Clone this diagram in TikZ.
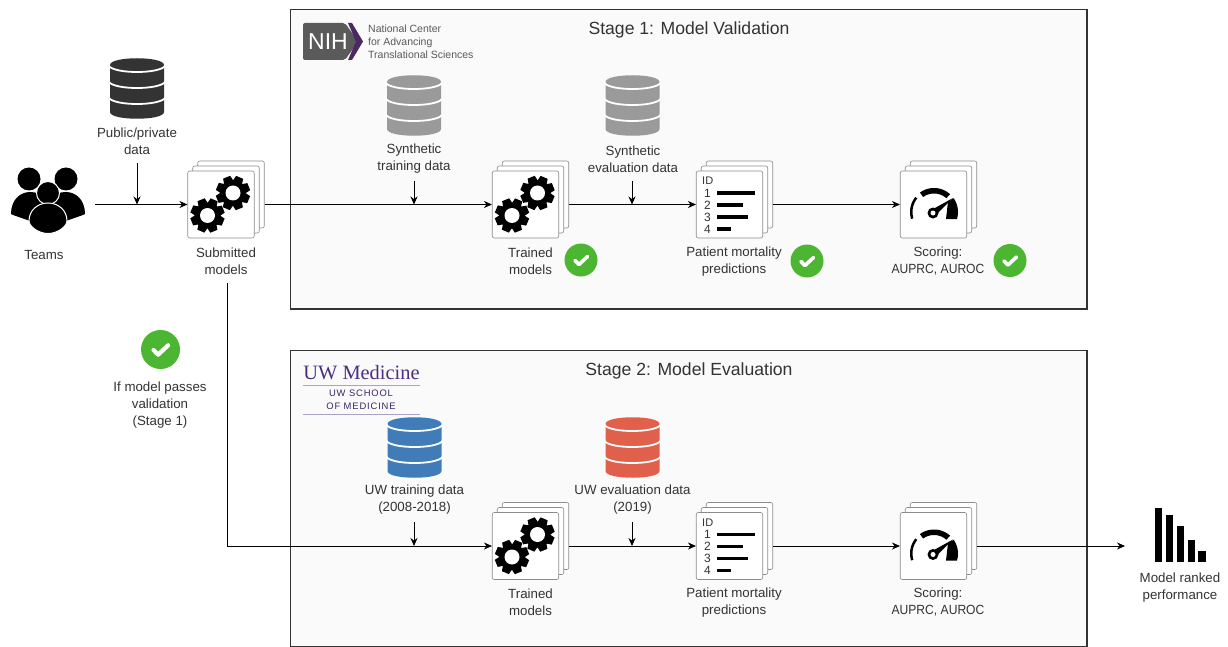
\documentclass[tikz,border=0pt]{standalone}
\usepackage{fontspec}
\setmainfont{Liberation Sans}
\newfontfamily\serifface{Liberation Serif}
\newfontfamily\uwsmall[LetterSpace=9]{Liberation Sans}
\newfontfamily\capsface[FakeStretch=0.91]{Liberation Sans}
\usetikzlibrary{arrows.meta,calc}
\definecolor{txt}{HTML}{333333}
\definecolor{panelbg}{HTML}{FAFAFA}
\definecolor{okgreen}{HTML}{4CB531}
\definecolor{dbblack}{HTML}{333333}
\definecolor{dbgray}{HTML}{9A9A9A}
\definecolor{dbblue}{HTML}{3F7CB8}
\definecolor{dbred}{HTML}{E0604C}
\definecolor{uwpurple}{HTML}{4B2E83}
\definecolor{nihgray}{HTML}{5A5A5A}
\definecolor{nihpurple}{HTML}{4A2A60}
\newcommand{\capsline}[1]{{\capsface\fontsize{13.3}{17}\selectfont #1}}
\tikzset{
  lbl/.style={font=\fontsize{13.3}{17}\selectfont,align=center,text=txt,inner sep=0pt},
  ttl/.style={font=\fontsize{17.6}{20}\selectfont,text=txt,inner sep=0pt},
  panel/.style={draw=black!80,line width=1.3pt,fill=panelbg},
  cardbox/.style={draw=black!45,line width=0.6pt,fill=white,rounded corners=2pt,minimum width=66.5pt,minimum height=67pt,inner sep=0pt},
  conn/.style={draw=black,line width=0.8pt,-{Stealth[length=8pt,width=7pt]}},
  pics/cards/.style={code={
    \node[cardbox] (-b) at (10,-10) {};
    \node[cardbox] (-m) at (5,-5) {};
    \node[cardbox] (-f) at (0,0) {};
  }},
  pics/dbicon/.style={code={
    \fill[#1] (-27,7) .. controls (-27,-2) and (27,-2) .. (27,7) -- (27,54) .. controls (27,63) and (-27,63) .. (-27,54) -- cycle;
    \foreach \yy in {8,24,40}
      \draw[white,line width=1.8pt] (-28,\yy) .. controls (-22,\yy+8) and (22,\yy+8) .. (28,\yy);
  }},
  pics/gearicon/.style={code={
    \fill[black] (0,0) circle[radius=13];
    \foreach \a in {0,45,...,315}
      \fill[black,rotate=\a+22] (-3.8,-17) -- (3.8,-17) -- (5.2,-10) -- (-5.2,-10) -- cycle;
    \fill[white] (0,0) circle[radius=7.5];
  }},
  pics/gears/.style={code={
    \pic at (-13.5,11) {gearicon};
    \pic at (12,-11.5) {gearicon};
  }},
  pics/okmark/.style={code={
    \fill[okgreen] (0,0) circle[radius=16.5];
    \draw[white,line width=3.6pt,line cap=round,line join=round] (-6,0.5) -- (-2,4.5) -- (6.5,-3.5);
  }},
  pics/okbig/.style={code={
    \fill[okgreen] (0,0) circle[radius=19.5];
    \draw[white,line width=4.2pt,line cap=round,line join=round] (-7,0.5) -- (-2.4,5.2) -- (7.6,-4.2);
  }},
  pics/listicon/.style={code={
    \node[font=\fontsize{11}{12}\selectfont,text=txt,anchor=west,inner sep=0pt] (-id) at (-27.5,-23.5) {ID};
    \node[font=\fontsize{12}{12}\selectfont,text=txt,inner sep=0pt] (-n1) at (-22,-11.5) {1};
    \node[font=\fontsize{12}{12}\selectfont,text=txt,inner sep=0pt] (-n2) at (-22,0.5) {2};
    \node[font=\fontsize{12}{12}\selectfont,text=txt,inner sep=0pt] (-n3) at (-22,12.5) {3};
    \node[font=\fontsize{12}{12}\selectfont,text=txt,inner sep=0pt] (-n4) at (-22,24.5) {4};
    \fill[black] (-12.5,-13.5) rectangle (25.5,-9.8);
    \fill[black] (-12.5,-1.5) rectangle (13.5,2.2);
    \fill[black] (-12.5,10.5) rectangle (18.5,14.2);
    \fill[black] (-12.5,22.5) rectangle (1.5,26.2);
  }},
  pics/gaugeicon/.style={code={
    % origin = card centre; dial centre lies at (0.5,7.5)
    \fill[black] plot[domain=197:141,samples=14] ({0.5+24*cos(\x)},{7.5-24*sin(\x)})
       -- plot[domain=141:197,samples=14] ({0.5+21.5*cos(\x)},{7.5-21.5*sin(\x)}) -- cycle;
    \fill[black] plot[domain=126:48,samples=18] ({0.5+24*cos(\x)},{7.5-24*sin(\x)})
       -- plot[domain=48:126,samples=18] ({0.5+18.5*cos(\x)},{7.5-18.5*sin(\x)}) -- cycle;
    \fill[black] plot[domain=35:-17,samples=14] ({0.5+24*cos(\x)},{7.5-24*sin(\x)})
       -- (12.5,14.5) -- ({0.5+17*cos(35)},{7.5-17*sin(35)}) -- cycle;
    \fill[black] (19.5,-6.5) -- (1.6,11.3) -- (-2.6,5.7) -- cycle;
    \fill[black] (-0.5,8.5) circle[radius=5.5];
    \fill[white] (-0.5,8.5) circle[radius=2.5];
  }},
}
\begin{document}
\begin{tikzpicture}[x=1pt,y=-1pt]
\useasboundingbox (0,0) rectangle (1228,647);
\fill[white] (0,0) rectangle (1228,647);

% panels
\draw[panel] (290.5,9.5) rectangle (1087,309);
\draw[panel] (290.5,350.5) rectangle (1087,646.3);
\node[ttl] (title1) at (689,30) {Stage 1: Model Validation};
\node[ttl] (title2) at (689,371) {Stage 2: Model Evaluation};

% NIH logo
\fill[nihgray,rounded corners=2pt] (303,23) -- (345,23) -- (358,41.5) -- (345,60) -- (303,60) -- cycle;
\fill[nihpurple] (348,23) -- (352,23) -- (363,41.5) -- (352,60) -- (348,60) -- (356,41.5) -- cycle;
\node[font=\fontsize{23}{24}\selectfont,text=white,inner sep=0pt] (nih) at (328,42) {NIH};
\node[font=\fontsize{10.5}{13}\selectfont,text=black!65,align=left,anchor=west,inner sep=0pt] (ncats) at (368,42) {National Center\\for Advancing\\Translational Sciences};

% UW logo
\node[font=\serifface\fontsize{20.4}{22}\selectfont,text=uwpurple,inner sep=0pt] (uw) at (361.5,373) {UW Medicine};
\draw[uwpurple!45,line width=0.9pt] (303,385) -- (420,385);
\node[font=\uwsmall\fontsize{9.4}{13}\selectfont,text=uwpurple!80!black,align=center,inner sep=0pt] (uwsom) at (361,399.5) {UW SCHOOL\\OF MEDICINE};
\draw[uwpurple!45,line width=0.7pt] (303,414) -- (420,414);

% databases
\pic at (137,58) {dbicon=dbblack};
\pic at (414,75) {dbicon=dbgray};
\pic at (632.5,75) {dbicon=dbgray};
\pic at (414.5,417) {dbicon=dbblue};
\pic at (632.5,417) {dbicon=dbred};

% teams
\fill[black] (29,179) circle[radius=11.5];
\fill[black] (66,179) circle[radius=11.5];
\fill[black] (11,214) .. controls (11,200) and (20,192) .. (30,192) .. controls (42,192) and (50,200) .. (50,214) -- (30,221) .. controls (22,218) and (15,216) .. (11,214) -- cycle;
\fill[black] (85,214) .. controls (85,200) and (76,192) .. (66,192) .. controls (54,192) and (46,200) .. (46,214) -- (66,221) .. controls (74,218) and (81,216) .. (85,214) -- cycle;
\fill[black,draw=white,line width=1pt] (48,193) circle[radius=11.5];
\fill[black,draw=white,line width=1pt] (29,221) .. controls (29,210) and (38,203) .. (48,203) .. controls (58,203) and (67,210) .. (67,221) .. controls (67,226) and (58,233.5) .. (48,233.5) .. controls (38,233.5) and (29,226) .. (29,221) -- cycle;

% cards
\pic (sub) at (221,204.5) {cards};
\pic (tr1) at (525.5,204.5) {cards};
\pic (ls1) at (729.5,204.5) {cards};
\pic (sc1) at (933.5,204.5) {cards};
\pic (tr2) at (525.5,546) {cards};
\pic (ls2) at (729.5,546) {cards};
\pic (sc2) at (933.5,546) {cards};
\pic at (221,204.5) {gears};
\pic at (525.5,204.5) {gears};
\pic at (525.5,546) {gears};
\pic (l1) at (729.5,204.5) {listicon};
\pic (l2) at (729.5,546) {listicon};
\pic at (933.5,204.5) {gaugeicon};
\pic at (933.5,546) {gaugeicon};

% checks
\pic at (581,260) {okmark};
\pic at (807,261) {okmark};
\pic at (1010,260.5) {okmark};
\pic at (160.5,349.5) {okbig};

% ranked bars
\fill[black] (1155,508) rectangle (1162,562);
\fill[black] (1166,515) rectangle (1173,562);
\fill[black] (1177,526) rectangle (1184,562);
\fill[black] (1187.5,540) rectangle (1194.5,562);
\fill[black] (1198,551) rectangle (1205.5,562);

% labels
\node[lbl] (lpub) at (137,141) {Public/private\\data};
\node[lbl] (lteam) at (44,255) {Teams};
\node[lbl] (lsub) at (226,261.5) {Submitted\\models};
\node[lbl] (lsyn1) at (414,159) {Synthetic\\training data};
\node[lbl] (lsyn2) at (633,159) {Synthetic\\evaluation data};
\node[lbl] (ltr1) at (530.5,261.5) {Trained\\models};
\node[lbl] (lpm1) at (734,261.5) {Patient mortality\\predictions};
\node[lbl] (lsc1) at (938,261.5) {Scoring:\\\capsline{AUPRC, AUROC}};
\node[lbl] (lif) at (160,405.5) {If model passes\\validation\\(Stage 1)};
\node[lbl] (luw1) at (414.5,500) {UW training data\\(2008-2018)};
\node[lbl] (luw2) at (632.5,500) {UW evaluation data\\(2019)};
\node[lbl] (ltr2) at (530.5,602.5) {Trained\\models};
\node[lbl] (lpm2) at (734,602.5) {Patient mortality\\predictions};
\node[lbl] (lsc2) at (938,602.5) {Scoring:\\\capsline{AUPRC, AUROC}};
\node[lbl] (lrank) at (1180,587.5) {Model ranked\\performance};

% connector end points
\coordinate (tstart) at (95,204.5);
\coordinate (dnstart) at (227,283);
\coordinate (rankend) at (1125,546);
\coordinate (v1a) at (137,163); \coordinate (v1b) at (137,204.5);
\coordinate (v2a) at (414,181); \coordinate (v2b) at (414,204.5);
\coordinate (v3a) at (632,181); \coordinate (v3b) at (632,204.5);
\coordinate (v4a) at (414,522); \coordinate (v4b) at (414,546);
\coordinate (v5a) at (632,522); \coordinate (v5b) at (632,546);

% connectors
\draw[conn] (tstart) -- (sub-f.west);
\draw[conn] (sub-b.east |- sub-f.center) -- (tr1-f.west);
\draw[conn] (tr1-b.east |- tr1-f.center) -- (ls1-f.west);
\draw[conn] (ls1-b.east |- ls1-f.center) -- (sc1-f.west);
\draw[conn] (dnstart) |- (tr2-f.west);
\draw[conn] (tr2-b.east |- tr2-f.center) -- (ls2-f.west);
\draw[conn] (ls2-b.east |- ls2-f.center) -- (sc2-f.west);
\draw[conn] (sc2-b.east |- sc2-f.center) -- (rankend);
\draw[conn] (v1a) -- (v1b);
\draw[conn] (v2a) -- (v2b);
\draw[conn] (v3a) -- (v3b);
\draw[conn] (v4a) -- (v4b);
\draw[conn] (v5a) -- (v5b);
\end{tikzpicture}
\end{document}
